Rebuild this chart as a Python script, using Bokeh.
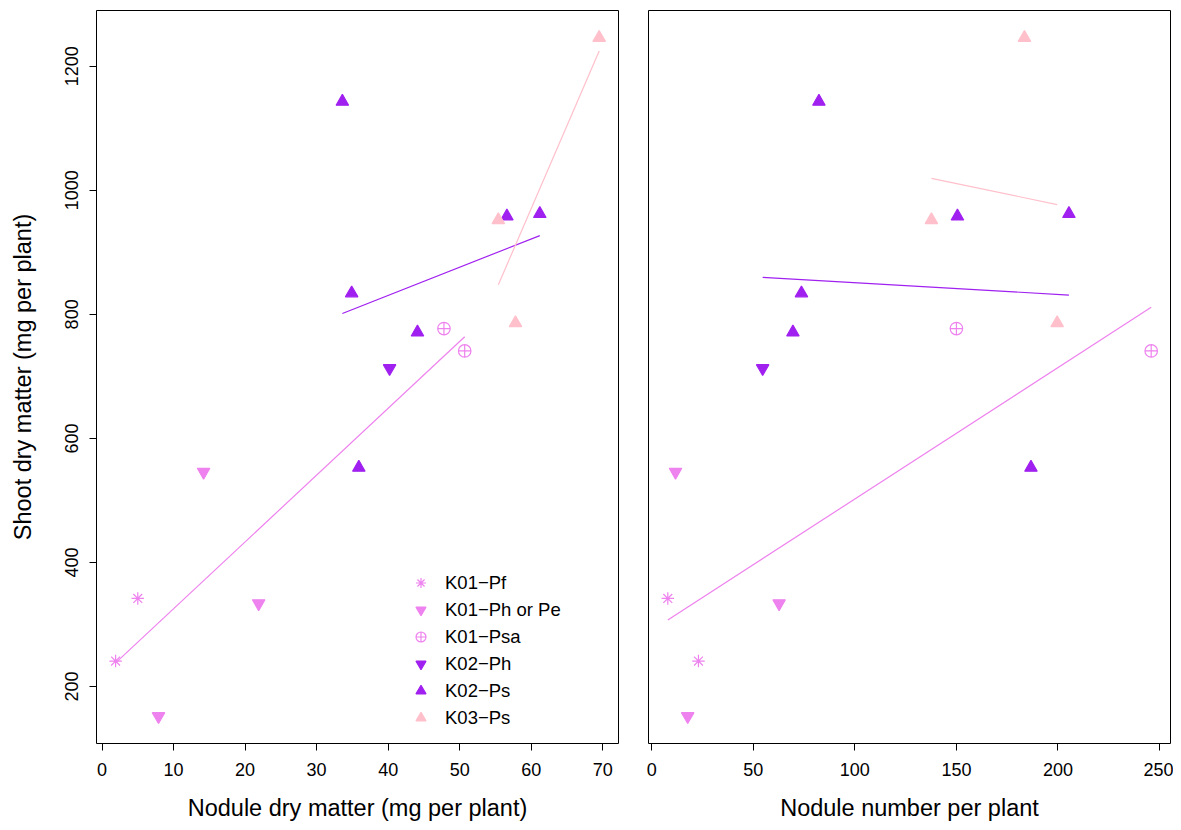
import numpy as np
from bokeh.plotting import figure
from bokeh.layouts import row
from bokeh.models import Legend, LegendItem, Range1d, FixedTicker
from bokeh.embed import file_html
from bokeh.resources import INLINE

# ---------------- data ----------------
groups = ["K01\u2212Pf", "K01\u2212Ph or Pe", "K01\u2212Psa", "K02\u2212Ph", "K02\u2212Ps", "K03\u2212Ps"]
sites = ["K01", "K01", "K01", "K02", "K02", "K03"]

# nodule dry matter (mg per plant)
ndm_pf = [1.9, 5.0]
ndm_ph = [14.2, 21.9, 7.9]
ndm_psa = [47.8, 50.7]
ndm_k02ph = [40.2]
ndm_k02ps = [33.6, 56.6, 61.2, 34.9, 44.1, 35.9]
ndm_k03ps = [69.5, 55.4, 57.8]

# nodule number per plant
nn_pf = [23.0, 7.9]
nn_ph = [11.7, 62.7, 17.7]
nn_psa = [150.0, 245.9]
nn_k02ph = [54.6]
nn_k02ps = [82.3, 150.5, 205.4, 73.7, 69.5, 186.7]
nn_k03ps = [183.5, 137.7, 199.6]

# shoot dry matter (mg per plant)
sdm_pf = [241, 342]
sdm_ph = [546, 334, 152]
sdm_psa = [777, 741]
sdm_k02ph = [713]
sdm_k02ps = [1143, 958, 962, 834, 771, 553]
sdm_k03ps = [1246, 952, 786]

ndm = [ndm_pf, ndm_ph, ndm_psa, ndm_k02ph, ndm_k02ps, ndm_k03ps]
nn = [nn_pf, nn_ph, nn_psa, nn_k02ph, nn_k02ps, nn_k03ps]
sdm = [sdm_pf, sdm_ph, sdm_psa, sdm_k02ph, sdm_k02ps, sdm_k03ps]

site_colors = {"K01": "#EE82EE", "K02": "#A020F0", "K03": "#FFC0CB"}
markers = ["asterisk", "inverted_triangle", "circle_cross", "inverted_triangle", "triangle", "triangle"]
filled = [False, True, False, True, True, True]

x_ticks_left = [0, 10, 20, 30, 40, 50, 60, 70]
x_ticks_right = [0, 50, 100, 150, 200, 250]
y_ticks = [200, 400, 600, 800, 1000, 1200]

FONT = "Liberation Sans"


def style(p, xlabel, show_y):
    p.outline_line_color = "black"
    p.outline_line_width = 1
    p.xgrid.grid_line_color = None
    p.ygrid.grid_line_color = None
    p.background_fill_color = "white"
    p.border_fill_color = "white"
    for ax in p.axis:
        ax.axis_line_color = None
        ax.major_tick_in = 0
        ax.major_tick_out = 7
        ax.major_tick_line_color = "black"
        ax.minor_tick_line_color = None
        ax.major_label_text_font = FONT
        ax.major_label_text_font_size = "18px"
        ax.major_label_text_color = "black"
        ax.axis_label_text_font = FONT
        ax.axis_label_text_font_size = "23.5px"
        ax.axis_label_text_font_style = "normal"
        ax.axis_label_text_color = "black"
    p.xaxis.axis_label = xlabel
    p.xaxis.major_label_standoff = 12
    p.xaxis.axis_label_standoff = 16
    p.yaxis.ticker = FixedTicker(ticks=y_ticks)
    if show_y:
        p.yaxis.axis_label = "Shoot dry matter (mg per plant)"
        p.yaxis.major_label_orientation = "vertical"
        p.yaxis.major_label_standoff = 11
        p.yaxis.axis_label_standoff = 27
    else:
        p.yaxis.visible = False


def draw(p, xs_list):
    rends = []
    for i in range(len(groups)):
        col = site_colors[sites[i]]
        r = p.scatter(xs_list[i], sdm[i], marker=markers[i], size=12.5,
                      line_color=col, line_width=1.2,
                      fill_color=col if filled[i] else None)
        rends.append(r)
    # least-squares lines, pooled by site
    for s in ["K01", "K02", "K03"]:
        xs = np.concatenate([xs_list[i] for i in range(len(groups)) if sites[i] == s]).astype(float)
        ys = np.concatenate([sdm[i] for i in range(len(groups)) if sites[i] == s]).astype(float)
        b, a = np.polyfit(xs, ys, 1)
        x0, x1 = xs.min(), xs.max()
        p.line([x0, x1], [a + b * x0, a + b * x1], line_color=site_colors[s], line_width=1.2)
    return rends


p1 = figure(width=633, height=823, output_backend="svg", toolbar_location=None,
            x_range=Range1d(-0.77, 72.2), y_range=Range1d(108.2, 1289.8),
            min_border_left=96, min_border_right=15, min_border_top=10, min_border_bottom=80)
style(p1, "Nodule dry matter (mg per plant)", True)
p1.xaxis.ticker = FixedTicker(ticks=x_ticks_left)
r1 = draw(p1, ndm)

legend = Legend(items=[LegendItem(label=groups[i], renderers=[r1[i]]) for i in range(len(groups))],
                location=(312, 13), border_line_color=None, background_fill_alpha=0,
                glyph_width=25, glyph_height=25, label_height=25, spacing=2,
                label_standoff=12, padding=10, margin=0,
                label_text_font=FONT, label_text_font_size="18.5px", label_text_color="black")
p1.add_layout(legend)

p2 = figure(width=540, height=823, output_backend="svg", toolbar_location=None,
            x_range=Range1d(-1.6, 255.4), y_range=Range1d(108.2, 1289.8),
            min_border_left=15, min_border_right=3, min_border_top=10, min_border_bottom=80)
style(p2, "Nodule number per plant", False)
p2.xaxis.ticker = FixedTicker(ticks=x_ticks_right)
draw(p2, nn)

layout = row(p1, p2)
open("out.html", "w").write(file_html(layout, INLINE))
